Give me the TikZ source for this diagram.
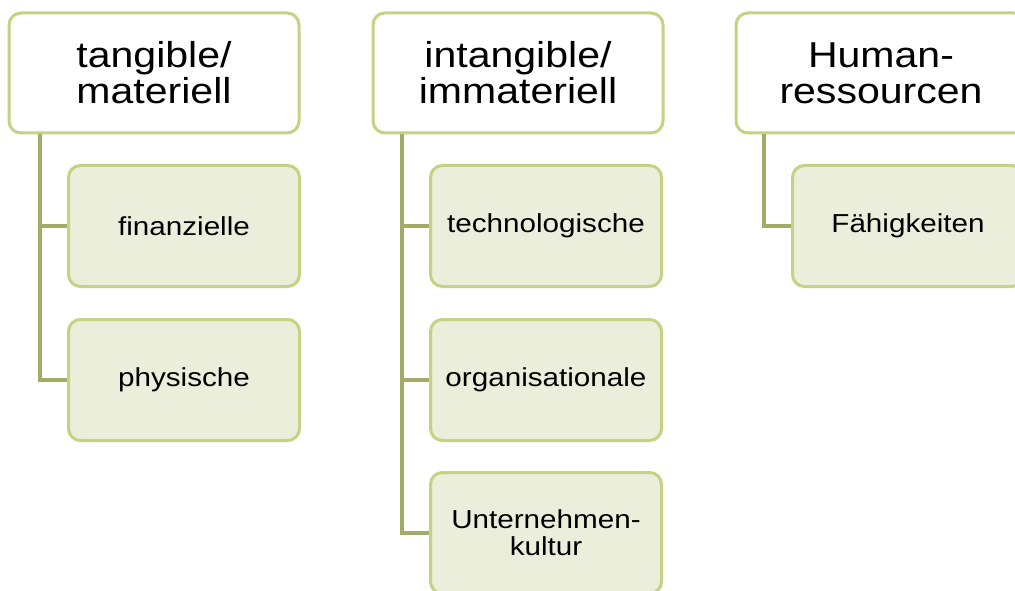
\documentclass[tikz,border=0pt]{standalone}
\usepackage{fontspec}
\newfontfamily\diafont[FakeStretch=1.14]{Liberation Sans}
\definecolor{bordergreen}{HTML}{C3D283}
\definecolor{linkgreen}{HTML}{A3AB66}
\definecolor{fillgreen}{HTML}{EBEEDA}
\begin{document}
\begin{tikzpicture}[x=1pt,y=-1pt,
  topbox/.style={draw=bordergreen, line width=3pt, rounded corners=12pt, fill=white,
    minimum width=290pt, minimum height=120pt, inner sep=0pt, align=center,
    font=\diafont\fontsize{36}{36}\selectfont},
  childbox/.style={draw=bordergreen, line width=3pt, rounded corners=12pt, fill=fillgreen,
    minimum width=231pt, minimum height=121pt, inner sep=0pt, align=center,
    font=\diafont\fontsize{26}{27}\selectfont},
  link/.style={draw=linkgreen, line width=3.5pt}]
\useasboundingbox (0,0) rectangle (1015,591);
\clip (0,0) rectangle (1015,591);
% top level
\node[topbox] (t1) at (154,73) {tangible/\\materiell};
\node[topbox] (t2) at (518,73) {intangible/\\immateriell};
\node[topbox] (t3) at (881,73) {Human-\\ressourcen};
% children
\node[childbox] (c11) at (184,226) {finanzielle};
\node[childbox] (c12) at (184,380) {physische};
\node[childbox] (c21) at (546,226) {technologische};
\node[childbox] (c22) at (546,380) {organisationale};
\node[childbox] (c23) at (546,533) {Unternehmen-\\kultur};
\node[childbox] (c31) at (908,226) {Fähigkeiten};
% anchor points on parents
\coordinate (p1) at (40,134);
\coordinate (p2) at (402,134);
\coordinate (p3) at (764,134);
% connectors
\draw[link] (p1) |- (c11.west);
\draw[link] (p1) |- (c12.west);
\draw[link] (p2) |- (c21.west);
\draw[link] (p2) |- (c22.west);
\draw[link] (p2) |- (c23.west);
\draw[link] (p3) |- (c31.west);
\end{tikzpicture}
\end{document}
